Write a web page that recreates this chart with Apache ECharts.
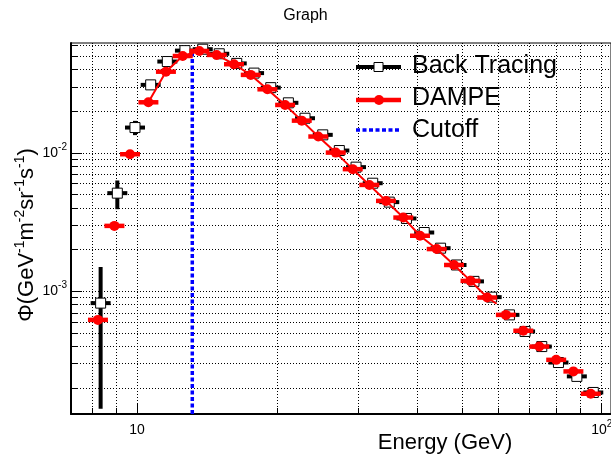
<!DOCTYPE html>
<html>
<head>
<meta charset="utf-8">
<script src="https://cdn.jsdelivr.net/npm/echarts@6/dist/echarts.min.js"></script>
<style>
html, body { margin: 0; padding: 0; background: #fff; }
#main { width: 611px; height: 464px; }
</style>
</head>
<body>
<div id="main"></div>
<script>
// values
var energyBT = [8.35, 9.07, 9.90, 10.70, 11.62, 12.68, 13.85, 15.03, 16.39, 17.86, 19.40, 21.17, 22.99, 25.1, 27.25,
    29.6, 32.15, 34.9, 38.0, 41.5, 45.0, 48.7, 53.1, 57.96, 63.3, 68.4, 74.3, 80.7, 88.4, 95.9];
var fluxBT = [8.22e-4, 5.12e-3, 0.01524, 0.0310, 0.0457, 0.0548, 0.0561, 0.0520, 0.0443, 0.0377, 0.0296, 0.0230, 0.0178, 0.0135, 0.0104,
    7.89e-3, 6.04e-3, 4.41e-3, 3.36e-3, 2.66e-3, 2.05e-3, 1.55e-3, 1.18e-3, 9.08e-4, 6.76e-4, 5.13e-4, 3.99e-4, 3.06e-4, 2.43e-4, 1.86e-4];
var errBT = [6.8e-4, 1.2e-3, 1.8e-3, 1.4e-3, 1.5e-3, 1.6e-3, 1.6e-3, 1.5e-3, 1.3e-3, 1.1e-3, 9e-4, 7e-4, 5e-4, 4e-4, 3e-4,
    2.4e-4, 1.8e-4, 1.4e-4, 1.0e-4, 8e-5, 6e-5, 5e-5, 4e-5, 3e-5, 2.2e-5, 1.7e-5, 1.3e-5, 1.0e-5, 8e-6, 6e-6];

var energyDA = [8.24, 8.94, 9.66, 10.58, 11.54, 12.54, 13.62, 14.84, 16.17, 17.57, 19.08, 20.83, 22.62, 24.55, 26.77,
    29.12, 31.62, 34.34, 37.41, 40.64, 44.15, 48.1, 52.2, 56.7, 62.2, 67.8, 73.4, 79.8, 86.9, 94.7];
var fluxDA = [6.22e-4, 2.97e-3, 9.78e-3, 0.0232, 0.0386, 0.0501, 0.0545, 0.0510, 0.0437, 0.0366, 0.0288, 0.0222, 0.0171, 0.01313, 0.01005,
    7.63e-3, 5.87e-3, 4.50e-3, 3.41e-3, 2.52e-3, 2.02e-3, 1.55e-3, 1.19e-3, 9.02e-4, 6.76e-4, 5.19e-4, 3.99e-4, 3.20e-4, 2.64e-4, 1.82e-4];

// red line runs over part of the DAMPE points and ends a little past the last one
var lineFirst = 3, lineLast = 23;
var lineEnd = [59.4, 8.13e-4];

var cutoffEnergy = 13.15;
var cutoffTop = 0.054;

var xRange = [7.21, 104.7];
var yRange = [1.3e-4, 0.0622];
var xGridTicks = [8, 9, 10, 20, 30, 40, 50, 60, 70, 80, 90, 100];
var xMajorTicks = [10, 100];
var yGridTicks = [2e-4, 3e-4, 4e-4, 5e-4, 6e-4, 7e-4, 8e-4, 9e-4,
    1e-3, 2e-3, 3e-3, 4e-3, 5e-3, 6e-3, 7e-3, 8e-3, 9e-3,
    1e-2, 2e-2, 3e-2, 4e-2, 5e-2, 6e-2];
var yMajorTicks = [1e-3, 1e-2];

var binHalf = Math.pow(10, 0.0215);  // half bin width, log10 units
var FONT = 'Liberation Sans, Arial, sans-serif';

var myChart = echarts.init(document.getElementById('main'));

function powLabel(v) {
    var e = Math.round(Math.log10(v));
    return e === 1 ? '{b|10}' : '{b|10}{s|' + e + '}';
}
var powRich = {
    b: { fontSize: 14, lineHeight: 22, fontFamily: FONT, color: '#000' },
    s: { fontSize: 10, lineHeight: 14, verticalAlign: 'top', fontFamily: FONT, color: '#000' }
};

function errorBars(color, width) {
    return function (params, api) {
        var x = api.value(0), y = api.value(1), e = api.value(2);
        var l = api.coord([x / binHalf, y]);
        var r = api.coord([x * binHalf, y]);
        var kids = [{
            type: 'line',
            shape: { x1: l[0], y1: l[1], x2: r[0], y2: r[1] },
            style: { stroke: color, lineWidth: width }
        }];
        if (e > 0) {
            var t = api.coord([x, y + e]);
            var b = api.coord([x, Math.max(y - e, yRange[0])]);
            kids.push({
                type: 'line',
                shape: { x1: t[0], y1: t[1], x2: b[0], y2: b[1] },
                style: { stroke: color, lineWidth: width }
            });
        }
        return { type: 'group', children: kids };
    };
}

var bt = energyBT.map(function (x, i) { return [x, fluxBT[i], errBT[i]]; });
var da = energyDA.map(function (x, i) { return [x, fluxDA[i], 0]; });
var daLine = da.slice(lineFirst, lineLast + 1).map(function (d) { return [d[0], d[1]]; });
daLine.push(lineEnd);

var gridLine = { show: true, lineStyle: { color: '#000', width: 1, type: [1, 2] } };

var option = {
    backgroundColor: '#fff',
    animation: false,
    title: {
        text: 'Graph',
        left: 'center',
        top: 3,
        textStyle: { fontFamily: FONT, fontSize: 16, fontWeight: 'normal', color: '#000' }
    },
    grid: {
        left: 71, right: 0, top: 43, bottom: 50,
        show: true, borderColor: '#000', borderWidth: 1,
        containLabel: false, outerBoundsMode: 'none'
    },
    xAxis: [{
        type: 'log', logBase: 10, min: xRange[0], max: xRange[1],
        position: 'bottom',
        axisLine: { show: true, lineStyle: { color: '#000', width: 2 } },
        axisTick: { show: true, inside: true, length: 6, customValues: xGridTicks, lineStyle: { color: '#000' } },
        axisLabel: { show: false },
        splitLine: gridLine
    }, {
        type: 'log', logBase: 10, min: xRange[0], max: xRange[1],
        position: 'bottom',
        axisLine: { show: false },
        axisTick: { show: true, inside: true, length: 11, customValues: xMajorTicks, lineStyle: { color: '#000' } },
        axisLabel: { show: true, margin: 5, customValues: xMajorTicks, formatter: powLabel, rich: powRich },
        splitLine: { show: false }
    }],
    yAxis: [{
        type: 'log', logBase: 10, min: yRange[0], max: yRange[1],
        position: 'left',
        axisLine: { show: true, lineStyle: { color: '#000', width: 2 } },
        axisTick: { show: true, inside: true, length: 6, customValues: yGridTicks, lineStyle: { color: '#000' } },
        axisLabel: { show: false },
        splitLine: gridLine
    }, {
        type: 'log', logBase: 10, min: yRange[0], max: yRange[1],
        position: 'left',
        axisLine: { show: false },
        axisTick: { show: true, inside: true, length: 11, customValues: yMajorTicks, lineStyle: { color: '#000' } },
        axisLabel: { show: true, margin: 4, customValues: yMajorTicks, formatter: powLabel, rich: powRich },
        splitLine: { show: false }
    }],
    series: [
        {
            name: 'Back Tracing bars', type: 'custom', z: 2, clip: true,
            renderItem: errorBars('#000', 4),
            encode: { x: 0, y: 1 },
            data: bt
        },
        {
            name: 'Back Tracing', type: 'scatter', z: 3,
            symbol: 'rect', symbolSize: 10,
            itemStyle: { color: '#fff', borderColor: '#000', borderWidth: 1, opacity: 1 },
            data: bt.map(function (d) { return [d[0], d[1]]; })
        },
        {
            name: 'Cutoff', type: 'line', z: 4, symbol: 'none',
            lineStyle: { color: '#0000ff', width: 3.5, type: [4, 2.5] },
            data: [[cutoffEnergy, yRange[0]], [cutoffEnergy, cutoffTop]]
        },
        {
            name: 'DAMPE line', type: 'line', z: 5, symbol: 'none',
            lineStyle: { color: '#ff0000', width: 2 },
            data: daLine
        },
        {
            name: 'DAMPE bars', type: 'custom', z: 6, clip: true,
            renderItem: errorBars('#ff0000', 4.5),
            encode: { x: 0, y: 1 },
            data: da
        },
        {
            name: 'DAMPE', type: 'scatter', z: 7,
            symbol: 'circle', symbolSize: 10,
            itemStyle: { color: '#ff0000', opacity: 1 },
            data: da.map(function (d) { return [d[0], d[1]]; })
        }
    ],
    graphic: [
        // legend
        { type: 'line', shape: { x1: 356, y1: 67, x2: 401, y2: 67 }, style: { stroke: '#000', lineWidth: 4 }, z: 10 },
        { type: 'rect', shape: { x: 374, y: 62.5, width: 9, height: 9 }, style: { fill: '#fff', stroke: '#000', lineWidth: 1 }, z: 11 },
        { type: 'text', x: 412, y: 66, style: { text: 'Back Tracing', font: '25px ' + FONT, fill: '#000', verticalAlign: 'middle' }, z: 10 },
        { type: 'line', shape: { x1: 356, y1: 100, x2: 401, y2: 100 }, style: { stroke: '#ff0000', lineWidth: 4.5 }, z: 10 },
        { type: 'circle', shape: { cx: 379, cy: 100, r: 5 }, style: { fill: '#ff0000' }, z: 11 },
        { type: 'text', x: 412, y: 98, style: { text: 'DAMPE', font: '25px ' + FONT, fill: '#000', verticalAlign: 'middle' }, z: 10 },
        { type: 'line', shape: { x1: 356, y1: 130, x2: 401, y2: 130 }, style: { stroke: '#0000ff', lineWidth: 3.5, lineDash: [4, 2.5] }, z: 10 },
        { type: 'text', x: 412, y: 130, style: { text: 'Cutoff', font: '25px ' + FONT, fill: '#000', verticalAlign: 'middle' }, z: 10 },
        // axis titles
        { type: 'text', x: 445, y: 443, style: { text: 'Energy (GeV)', font: '22px ' + FONT, fill: '#000', align: 'center', verticalAlign: 'middle' } },
        {
            type: 'text', x: 27, y: 235, rotation: Math.PI / 2,
            style: {
                text: '{t|Φ(GeV}{s|-1}{t|m}{s|-2}{t|sr}{s|-1}{t|s}{s|-1}{t|)}',
                align: 'center', verticalAlign: 'middle',
                rich: {
                    t: { font: '22px ' + FONT, fill: '#000', lineHeight: 28 },
                    s: { font: '14px ' + FONT, fill: '#000', lineHeight: 17, verticalAlign: 'top' }
                }
            }
        }
    ]
};

myChart.setOption(option);
</script>
</body>
</html>
